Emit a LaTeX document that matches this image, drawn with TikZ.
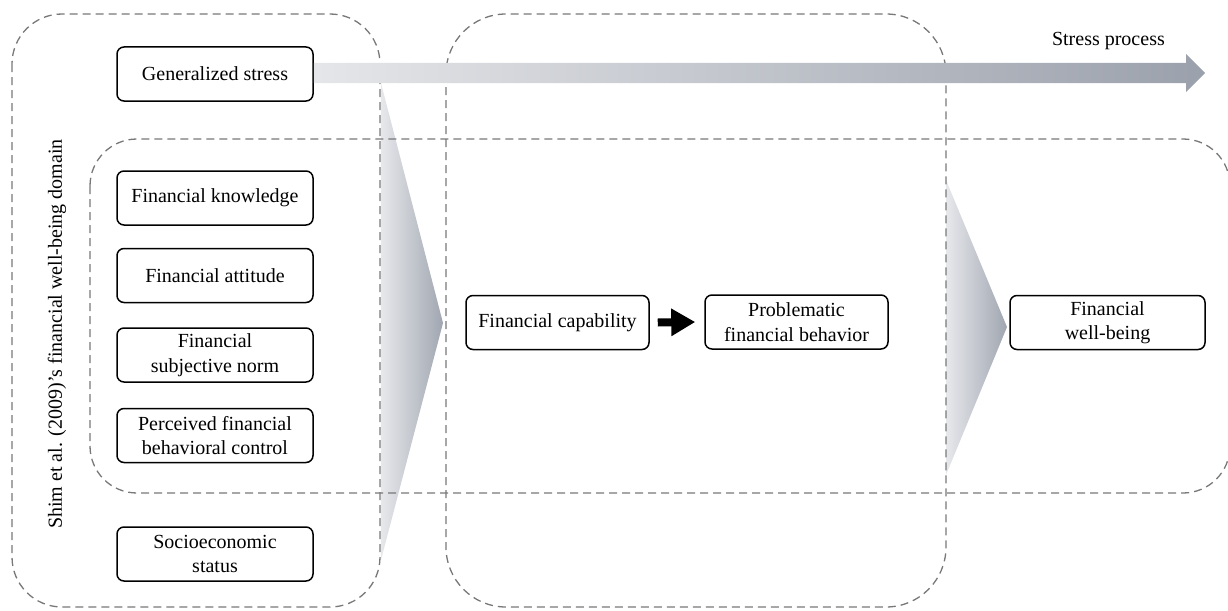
\documentclass[tikz,border=0pt]{standalone}
\usepackage{fontspec}
\setmainfont{Liberation Serif}
\usetikzlibrary{arrows.meta,calc}

\definecolor{dashgray}{RGB}{120,120,120}
\definecolor{shadelight}{RGB}{231,232,235}
\definecolor{shadedark}{RGB}{160,166,177}
\definecolor{bandlight}{RGB}{229,230,233}
\definecolor{banddark}{RGB}{155,161,172}

\tikzset{
  box/.style={draw, line width=1.5pt, rounded corners=7pt, align=center,
    minimum height=54pt, inner sep=0pt,
    font=\fontsize{20}{24.5}\selectfont},
  leftbox/.style={box, minimum width=196pt},
  groupline/.style={draw=dashgray, line width=1.3pt, dash pattern=on 8pt off 5pt},
  chevron/.style={left color=shadelight, right color=shadedark, draw=none},
  plaintext/.style={font=\fontsize{20}{24.5}\selectfont, inner sep=0pt},
}

\begin{document}
\begin{tikzpicture}[x=1pt, y=-1pt]
\useasboundingbox (0,0) rectangle (1228,610);
\clip (0,0) rectangle (1228,610);

% nodes: antecedents
\node[leftbox] (gen)   at (215,74)    {Generalized stress};
\node[leftbox] (know)  at (215,198)   {Financial knowledge};
\node[leftbox] (att)   at (215,275.5) {Financial attitude};
\node[leftbox] (norm)  at (215,355)   {Financial\\subjective norm};
\node[leftbox] (pbc)   at (215,435.5) {Perceived financial\\behavioral control};
\node[leftbox] (ses)   at (215,554)   {Socioeconomic\\status};

% nodes: mediators and outcome
\node[box, minimum width=183pt] (cap)  at (557.5,322.5) {Financial capability};
\node[box, minimum width=183pt] (prob) at (796.5,322)   {Problematic\\financial behavior};
\node[box, minimum width=195pt] (fwb)  at (1107.5,322.5) {Financial\\well-being};

% chevrons between the stages
\shade[chevron] (381,83) -- (443,323) -- (381,560) -- cycle;
\shade[chevron] (946,180) -- (1007,327) -- (946,475) -- cycle;

% dashed grouping outlines
\draw[groupline, rounded corners=50pt] (12,14) rectangle (380,607);
\draw[groupline, rounded corners=60pt] (446,14) rectangle (946,607);
\draw[groupline, rounded corners=47pt] (90,139) rectangle (1230,493);

% stress process band
\shade[left color=bandlight, right color=banddark]
  ($(gen.east)+(0,-11)$) -- (1186,63) -- (1186,54) -- (1205,73)
  -- (1186,92) -- (1186,83) -- ($(gen.east)+(0,9)$) -- cycle;
\node[plaintext, anchor=base east] (sp) at (1165,46) {Stress process};

% side label
\node[plaintext, rotate=90] (shim) at (57,334) {Shim et al. (2009)'s financial well-being domain};

% capability leads to behavior
\draw[line width=8pt, -{Triangle[length=24pt, width=26pt]}]
  ([xshift=8pt]cap.east) -- ([xshift=-9pt]prob.west);
\end{tikzpicture}
\end{document}
